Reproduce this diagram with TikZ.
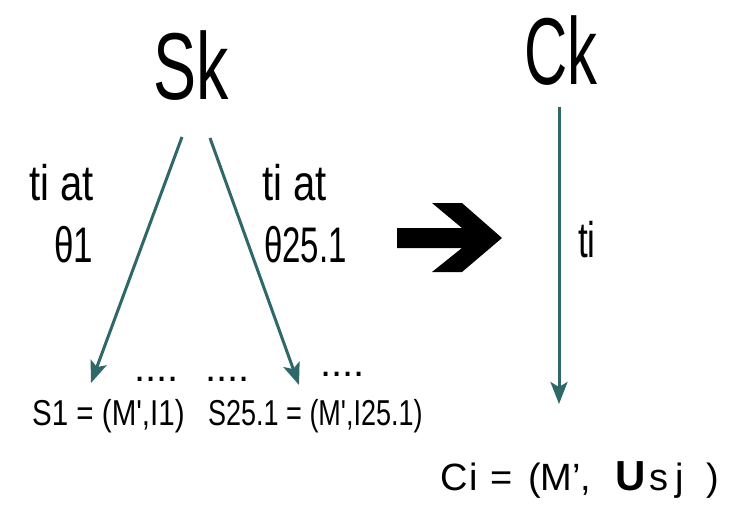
\documentclass[tikz,border=0pt]{standalone}
\usepackage{fontspec}
\setmainfont{Liberation Sans}[Ligatures=TeXOff]
\usetikzlibrary{arrows.meta}
\definecolor{teal}{RGB}{47,104,104}
\newcommand{\fsz}[1]{\fontsize{#1}{#1}\selectfont}
\newcommand{\nar}[2]{\scalebox{#1}[1]{#2}}
\begin{document}
\begin{tikzpicture}[x=1pt,y=-1pt,
  big/.style={inner sep=0pt,font=\fsz{95},anchor=base},
  lbl/.style={inner sep=0pt,font=\fsz{50},anchor=base west},
  small/.style={inner sep=0pt,font=\fsz{36},anchor=base west},
  dots/.style={inner sep=0pt,font=\fsz{40},anchor=base west},
  tealarrow/.style={draw=teal,line width=3pt,-{Stealth[length=22pt,width=17pt,inset=5pt]}}]
\fill[white] (0,0) rectangle (732,515);
\useasboundingbox (0,0) rectangle (732,515);
% titles
\node[big] (sk) at (191,99) {\nar{0.68}{Sk}};
\node[big] (ck) at (561,84) {\nar{0.63}{Ck}};
% arrow endpoints
\coordinate (l0) at (182,137);
\coordinate (l1) at (91,383);
\coordinate (r0) at (210,138);
\coordinate (r1) at (299,385);
\coordinate (v0) at (559,107);
\coordinate (v1) at (559,404);
\draw[tealarrow] (l0) -- (l1);
\draw[tealarrow] (r0) -- (r1);
\draw[tealarrow] (v0) -- (v1);
% labels
\node[lbl] (tl1) at (29,200) {\nar{0.8}{ti at}};
\node[lbl] (tl2) at (54,262) {\nar{0.7}{θ1}};
\node[lbl] (tr1) at (262,200) {\nar{0.8}{ti at}};
\node[lbl] (tr2) at (264,262) {\nar{0.66}{θ25.1}};
\node[lbl] (ti) at (578,257) {\nar{0.7}{ti}};
% big black arrow
\fill[black] (397,228) -- (462,228) -- (432,203) -- (462,203) -- (502,238)
  -- (462,272) -- (432,272) -- (462,248) -- (397,248) -- cycle;
% dots
\node[dots] (d1) at (134,381) {....};
\node[dots] (d2) at (205,381) {....};
\node[dots] (d3) at (320,376) {....};
% set texts
\node[small] (s1) at (32,425) {\nar{0.82}{S1 = (M',I1)}};
\node[small] (s25) at (208,425) {\nar{0.75}{S25.1 = (M',I25.1)}};
% result
\node[inner sep=0pt,font=\fsz{38},anchor=base west] (ci) at (440,490)
  {C\kern2pt i\kern12pt =\kern16pt (M’,\kern24pt {\fsz{42}\bfseries U}\kern4pt s\kern7pt j\kern22pt )};
\end{tikzpicture}
\end{document}
